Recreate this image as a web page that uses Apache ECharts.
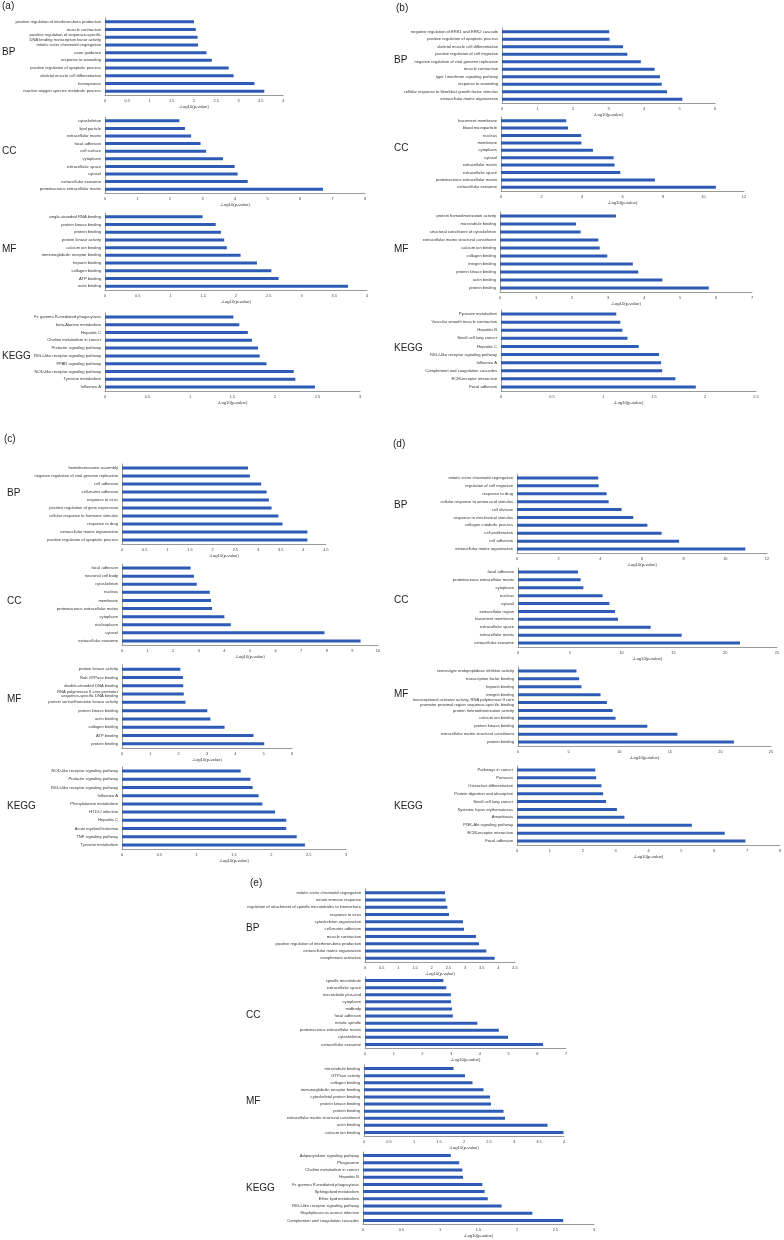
<!DOCTYPE html>
<html><head><meta charset="utf-8">
<script src="https://cdn.jsdelivr.net/npm/echarts@6/dist/echarts.min.js"></script>
<style>html,body{margin:0;padding:0;background:#fff}#c{width:784px;height:1240px}</style>
</head><body><div id="c"></div>
<script>
// ---------- DATA (top-to-bottom order as in the figure) ----------
const aBP_cats = ["positive regulation of interferon-beta production","muscle contraction","positive regulation of sequence-specific\nDNA binding transcription factor activity","mitotic sister chromatid segregation","axon guidance","response to wounding","positive regulation of apoptotic process","skeletal muscle cell differentiation","hemopoiesis","reactive oxygen species metabolic process"];
const aBP_vals = [2.00,2.04,2.08,2.09,2.28,2.40,2.78,2.89,3.36,3.58];
const aCC_cats = ["cytoskeleton","lipid particle","extracellular matrix","focal adhesion","cell surface","cytoplasm","extracellular space","cytosol","extracellular exosome","proteinaceous extracellular matrix"];
const aCC_vals = [2.29,2.46,2.65,2.94,3.11,3.63,3.99,4.08,4.39,6.71];
const aMF_cats = ["single-stranded RNA binding","protein kinase binding","protein binding","protein kinase activity","calcium ion binding","immunoglobulin receptor binding","heparin binding","collagen binding","ATP binding","actin binding"];
const aMF_vals = [1.49,1.69,1.77,1.82,1.86,2.07,2.32,2.54,2.65,3.71];
const aKEGG_cats = ["Fc gamma R-mediated phagocytosis","beta-Alanine metabolism","Hepatitis C","Choline metabolism in cancer","Prolactin signaling pathway","RIG-I-like receptor signaling pathway","PPAR signaling pathway","NOD-like receptor signaling pathway","Tyrosine metabolism","Influenza A"];
const aKEGG_vals = [1.51,1.58,1.68,1.73,1.80,1.82,1.90,2.22,2.24,2.47];

const bBP_cats = ["negative regulation of ERK1 and ERK2 cascade","positive regulation of apoptotic process","skeletal muscle cell differentiation","positive regulation of cell migration","negative regulation of viral genome replication","muscle contraction","type I interferon signaling pathway","response to wounding","cellular response to fibroblast growth factor stimulus","extracellular matrix organization"];
const bBP_vals = [3.02,3.03,3.41,3.53,3.91,4.30,4.45,4.50,4.65,5.08];
const bCC_cats = ["basement membrane","blood microparticle","nucleus","membrane","cytoplasm","cytosol","extracellular matrix","extracellular space","proteinaceous extracellular matrix","extracellular exosome"];
const bCC_vals = [3.22,3.31,3.96,3.97,4.54,5.56,5.61,5.89,7.60,10.61];
const bMF_cats = ["protein homodimerization activity","microtubule binding","structural constituent of cytoskeleton","extracellular matrix structural constituent","calcium ion binding","collagen binding","integrin binding","protein kinase binding","actin binding","protein binding"];
const bMF_vals = [3.22,2.11,2.24,2.73,2.77,2.98,3.69,3.84,4.51,5.80];
const bKEGG_cats = ["Pyruvate metabolism","Vascular smooth muscle contraction","Hepatitis B","Small cell lung cancer","Hepatitis C","RIG-I-like receptor signaling pathway","Influenza A","Complement and coagulation cascades","ECM-receptor interaction","Focal adhesion"];
const bKEGG_vals = [1.13,1.17,1.19,1.24,1.35,1.55,1.57,1.58,1.71,1.91];

const cBP_cats = ["hemidesmosome assembly","negative regulation of viral genome replication","cell adhesion","cell-matrix adhesion","response to virus","positive regulation of gene expression","cellular response to hormone stimulus","response to drug","extracellular matrix organization","positive regulation of apoptotic process"];
const cBP_vals = [2.78,2.82,3.07,3.19,3.24,3.30,3.45,3.54,4.09,4.09];
const cCC_cats = ["focal adhesion","neuronal cell body","cytoskeleton","nucleus","membrane","proteinaceous extracellular matrix","cytoplasm","nucleoplasm","cytosol","extracellular exosome"];
const cCC_vals = [2.68,2.81,2.92,3.43,3.48,3.52,4.00,4.25,7.91,9.32];
const cMF_cats = ["protein kinase activity","Rab GTPase binding","double-stranded DNA binding","RNA polymerase II core promoter\nsequence-specific DNA binding","protein serine/threonine kinase activity","protein kinase binding","actin binding","collagen binding","ATP binding","protein binding"];
const cMF_vals = [2.06,2.15,2.16,2.18,2.24,3.01,3.12,3.62,4.64,5.02];
const cKEGG_cats = ["NOD-like receptor signaling pathway","Prolactin signaling pathway","RIG-I-like receptor signaling pathway","Influenza A","Phenylalanine metabolism","HTLV-I infection","Hepatitis C","Acute myeloid leukemia","TNF signaling pathway","Tyrosine metabolism"];
const cKEGG_vals = [1.59,1.72,1.75,1.83,1.88,2.05,2.20,2.20,2.34,2.45];

const dBP_cats = ["mitotic sister chromatid segregation","regulation of cell migration","response to drug","cellular response to amino acid stimulus","cell division","response to mechanical stimulus","collagen catabolic process","cell proliferation","cell adhesion","extracellular matrix organization"];
const dBP_vals = [3.90,3.92,4.30,4.40,5.02,5.58,6.26,6.94,7.78,10.96];
const dCC_cats = ["focal adhesion","proteinaceous extracellular matrix","cytoplasm","nucleus","cytosol","extracellular region","basement membrane","extracellular space","extracellular matrix","extracellular exosome"];
const dCC_vals = [5.79,6.05,6.31,8.17,8.82,9.36,9.65,12.81,15.80,21.43];
const dMF_cats = ["serine-type endopeptidase inhibitor activity","transcription factor binding","heparin binding","integrin binding","transcriptional activator activity, RNA polymerase II core\npromoter proximal region sequence-specific binding","protein heterodimerization activity","calcium ion binding","protein kinase binding","extracellular matrix structural constituent","protein binding"];
const dMF_vals = [5.78,6.04,6.27,8.16,8.78,9.35,9.64,12.78,15.75,21.33];
const dKEGG_cats = ["Pathways in cancer","Pertussis","Osteoclast differentiation","Protein digestion and absorption","Small cell lung cancer","Systemic lupus erythematosus","Amoebiasis","PI3K-Akt signaling pathway","ECM-receptor interaction","Focal adhesion"];
const dKEGG_vals = [2.38,2.41,2.57,2.62,2.71,3.04,3.27,5.32,6.32,6.95];

const eBP_cats = ["mitotic sister chromatid segregation","innate immune response","regulation of attachment of spindle microtubules to kinetochore","response to virus","cytoskeleton organization","cell-matrix adhesion","muscle contraction","positive regulation of interferon-beta production","extracellular matrix organization","complement activation"];
const eBP_vals = [2.40,2.42,2.47,2.52,2.94,2.97,3.33,3.42,3.64,3.89];
const eCC_cats = ["spindle microtubule","extracellular space","microtubule plus-end","cytoplasm","midbody","focal adhesion","mitotic spindle","proteinaceous extracellular matrix","cytoskeleton","extracellular exosome"];
const eCC_vals = [2.73,2.83,2.99,3.00,3.03,3.06,3.91,4.66,4.98,6.20];
const eMF_cats = ["microtubule binding","GTPase activity","collagen binding","immunoglobulin receptor binding","cytoskeletal protein binding","protein kinase binding","protein binding","extracellular matrix structural constituent","actin binding","calcium ion binding"];
const eMF_vals = [1.79,2.02,2.17,2.39,2.52,2.54,2.79,2.82,3.67,3.99];
const eKEGG_cats = ["Adipocytokine signaling pathway","Phagosome","Choline metabolism in cancer","Hepatitis B","Fc gamma R-mediated phagocytosis","Sphingolipid metabolism","Ether lipid metabolism","RIG-I-like receptor signaling pathway","Staphylococcus aureus infection","Complement and coagulation cascades"];
const eKEGG_vals = [1.14,1.25,1.29,1.30,1.55,1.58,1.62,1.80,2.20,2.60];

const axisMax = {aBP:4,aCC:8,aMF:4,aKEGG:3,bBP:6,bCC:12,bMF:7,bKEGG:2.5,cBP:4.5,cCC:10,cMF:6,cKEGG:3,dBP:12,dCC:25,dMF:25,dKEGG:8,eBP:4.5,eCC:7,eMF:4,eKEGG:3};
const axisStep = {aBP:0.5,aCC:1,aMF:0.5,aKEGG:0.5,bBP:1,bCC:2,bMF:1,bKEGG:0.5,cBP:0.5,cCC:1,cMF:1,cKEGG:0.5,dBP:2,dCC:5,dMF:5,dKEGG:1,eBP:0.5,eCC:1,eMF:0.5,eKEGG:0.5};
const xName = "-Log10(p-value)";

// ---------- LAYOUT (plot rectangles: left, top, right, bottom in px) ----------
const layout = [
 ["aBP",aBP_cats,aBP_vals,105,18,283,95],
 ["aCC",aCC_cats,aCC_vals,105,117,365,193],
 ["aMF",aMF_cats,aMF_vals,105,213,367,290],
 ["aKEGG",aKEGG_cats,aKEGG_vals,105,313,360,391],
 ["bBP",bBP_cats,bBP_vals,502,28,715,103],
 ["bCC",bCC_cats,bCC_vals,501,117,744,191],
 ["bMF",bMF_cats,bMF_vals,500,212,752,292],
 ["bKEGG",bKEGG_cats,bKEGG_vals,501,310,756,391],
 ["cBP",cBP_cats,cBP_vals,122,464,326,544],
 ["cCC",cCC_cats,cCC_vals,122,564,378,645],
 ["cMF",cMF_cats,cMF_vals,122,665,292,748],
 ["cKEGG",cKEGG_cats,cKEGG_vals,122,767,346,849],
 ["dBP",dBP_cats,dBP_vals,517,474,767,553],
 ["dCC",dCC_cats,dCC_vals,518,568,777,647],
 ["dMF",dMF_cats,dMF_vals,518,667,771,746],
 ["dKEGG",dKEGG_cats,dKEGG_vals,517,766,781,845],
 ["eBP",eBP_cats,eBP_vals,365,889,515,962],
 ["eCC",eCC_cats,eCC_vals,365,977,566,1048],
 ["eMF",eMF_cats,eMF_vals,364,1065,564,1136],
 ["eKEGG",eKEGG_cats,eKEGG_vals,363,1152,594,1224]
];
const labels = [
 ["(a)",2,7],["BP",2,53],["CC",2,152],["MF",2,250],["KEGG",2,357],
 ["(b)",396,9],["BP",394,61],["CC",394,149],["MF",394,250],["KEGG",394,349],
 ["(c)",4,440],["BP",7,494],["CC",7,602],["MF",7,700],["KEGG",7,807],
 ["(d)",393,445],["BP",394,506],["CC",394,601],["MF",394,695],["KEGG",394,807],
 ["(e)",250,884],["BP",246,929],["CC",246,1016],["MF",246,1102],["KEGG",246,1189]
];

const FONT = "'Liberation Sans', Arial, sans-serif";
const grids=[], xAxes=[], yAxes=[], series=[];
layout.forEach((p,i)=>{
  const [key,cats,vals,L,T,R,B]=p;
  grids.push({left:L, top:T, width:R-L, height:B-T, containLabel:false});
  xAxes.push({type:'value', gridIndex:i, min:0, max:axisMax[key], interval:axisStep[key],
    splitLine:{show:false}, axisTick:{show:false},
    axisLine:{show:true, lineStyle:{color:'#9a9a9a', width:1}},
    axisLabel:{fontSize:3.9, color:'#444', margin:4, fontFamily:FONT},
    name:xName, nameLocation:'middle', nameGap:10,
    nameTextStyle:{fontSize:4.2, color:'#333', fontFamily:FONT}});
  yAxes.push({type:'category', gridIndex:i, data:cats, inverse:true,
    axisTick:{show:false}, splitLine:{show:false},
    axisLine:{show:true, lineStyle:{color:'#9a9a9a', width:1}},
    axisLabel:{fontSize:4.1, color:'#333', margin:4, lineHeight:4.6, fontFamily:FONT, interval:0}});
  series.push({type:'bar', xAxisIndex:i, yAxisIndex:i, data:vals, barWidth:3,
    itemStyle:{color:'#2d5bb6'}, silent:true});
});

const chart = echarts.init(document.getElementById('c'), null, {renderer:'canvas'});
chart.setOption({
  animation:false,
  backgroundColor:'#ffffff',
  title: labels.map(l=>({text:l[0], left:l[1], top:l[2]-6, padding:0,
    textStyle:{fontSize:10, fontWeight:'normal', color:'#222', fontFamily:FONT}})),
  grid:grids, xAxis:xAxes, yAxis:yAxes, series:series
});
</script></body></html>
